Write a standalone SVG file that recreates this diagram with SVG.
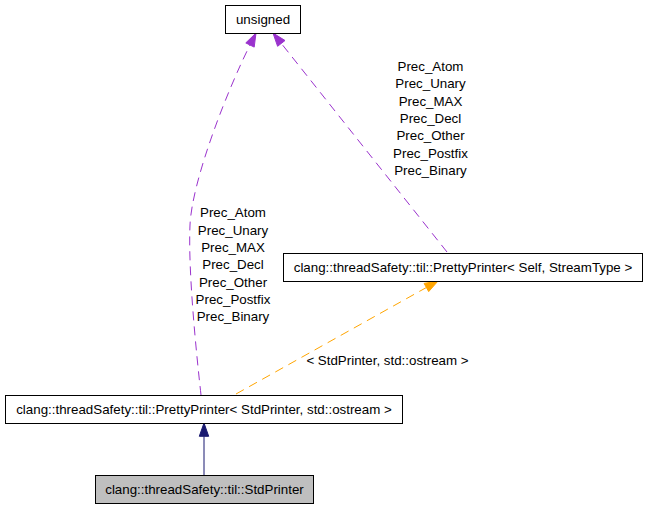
<svg xmlns="http://www.w3.org/2000/svg" width="648" height="509" viewBox="0 0 648 509">
<style>
  .box { fill: #ffffff; stroke: #000000; stroke-width: 1; }
  .cur { fill: #bfbfbf; stroke: #000000; stroke-width: 1; }
  text { font-family: "Liberation Sans", Arial, sans-serif; font-size: 13.33px; fill: #000000; }
  .c { text-anchor: middle; }
  .use { fill: none; stroke: #9a32cd; stroke-width: 1; stroke-dasharray: 9,6; }
  .tmpl { fill: none; stroke: #ffa500; stroke-width: 1; stroke-dasharray: 9,6; }
  .inh { fill: none; stroke: #191970; stroke-width: 1; }
</style>
<rect x="0" y="0" width="648" height="509" fill="#ffffff"/>
<g id="connectors">
  <g id="edge-unsigned-left">
    <path class="use" d="M201,395 C196,350 188,270 190,225 C192,180 227.6,89.7 250,45"/>
    <polygon points="256,33 245.8,42.9 254.2,47.1" fill="#9a32cd" stroke="#9a32cd"/>
    <text class="c" x="233" y="217.3">Prec_Atom</text>
    <text class="c" x="233" y="234.6">Prec_Unary</text>
    <text class="c" x="233" y="251.9">Prec_MAX</text>
    <text class="c" x="233" y="269.2">Prec_Decl</text>
    <text class="c" x="233" y="286.5">Prec_Other</text>
    <text class="c" x="233" y="303.8">Prec_Postfix</text>
    <text class="c" x="233" y="321.1">Prec_Binary</text>
  </g>
  <g id="edge-unsigned-right">
    <path class="use" d="M447,252 L281.3,43.4"/>
    <polygon points="273,33 285,40.5 277.6,46.3" fill="#9a32cd" stroke="#9a32cd"/>
    <text class="c" x="430.5" y="71">Prec_Atom</text>
    <text class="c" x="430.5" y="88.3">Prec_Unary</text>
    <text class="c" x="430.5" y="105.6">Prec_MAX</text>
    <text class="c" x="430.5" y="122.9">Prec_Decl</text>
    <text class="c" x="430.5" y="140.2">Prec_Other</text>
    <text class="c" x="430.5" y="157.5">Prec_Postfix</text>
    <text class="c" x="430.5" y="174.8">Prec_Binary</text>
  </g>
  <g id="edge-template">
    <path class="tmpl" d="M236,394 L426.4,287.5"/>
    <polygon points="438,281 424.1,283.4 428.7,291.6" fill="#ffa500" stroke="#ffa500"/>
    <text class="c" x="387.5" y="365">&lt; StdPrinter, std::ostream &gt;</text>
  </g>
  <g id="edge-inherit">
    <path class="inh" d="M204,475 L204,436.3"/>
    <polygon points="204,423 199.3,436.3 208.7,436.3" fill="#191970" stroke="#191970"/>
  </g>
</g>
<g id="node-unsigned">
  <rect class="box" x="225.5" y="5.5" width="75" height="28"/>
  <text class="c" x="263" y="23.5">unsigned</text>
</g>
<g id="node-prettyprinter-template">
  <rect class="box" x="283.5" y="253.5" width="359" height="28"/>
  <text class="c" x="463" y="271.5">clang::threadSafety::til::PrettyPrinter&lt; Self, StreamType &gt;</text>
</g>
<g id="node-prettyprinter-instance">
  <rect class="box" x="5.5" y="395.5" width="397" height="28"/>
  <text class="c" x="204" y="413.5">clang::threadSafety::til::PrettyPrinter&lt; StdPrinter, std::ostream &gt;</text>
</g>
<g id="node-stdprinter">
  <rect class="cur" x="95.5" y="475.5" width="218" height="28"/>
  <text class="c" x="204.5" y="493.5">clang::threadSafety::til::StdPrinter</text>
</g>
</svg>
